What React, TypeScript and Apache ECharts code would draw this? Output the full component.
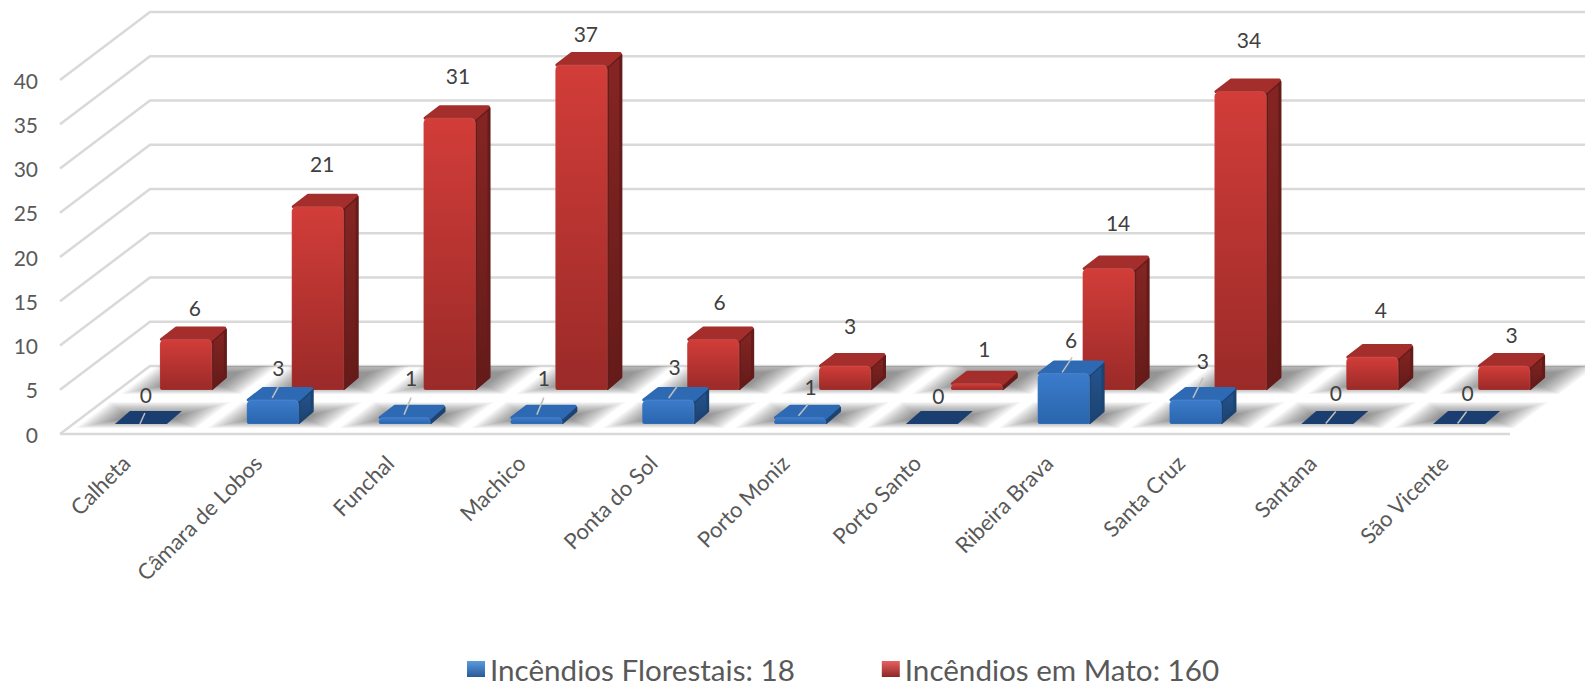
import React, { useEffect, useRef } from "react";
import * as echarts from "echarts";

const categories = ["Calheta", "Câmara de Lobos", "Funchal", "Machico", "Ponta do Sol", "Porto Moniz", "Porto Santo", "Ribeira Brava", "Santa Cruz", "Santana", "São Vicente"];
const florestais = [0, 3, 1, 1, 3, 1, 0, 6, 3, 0, 0];
const mato = [6, 21, 31, 37, 6, 3, 1, 14, 34, 4, 3];
const yTicks = [0, 5, 10, 15, 20, 25, 30, 35, 40];
const florestaisName = "Incêndios Florestais: 18";
const matoName = "Incêndios em Mato: 160";

// layout: label and leader offsets relative to each bar's top centre
const matoLabelOffset = [[1.5, -23], [-3, -34], [1, -34], [-3, -23], [-1, -29], [-2.5, -31], [0, -26], [2, -37], [1, -43], [1, -39], [0, -22]];
const florestaisLabelOffset = [[-2.5, -23.5], [-2, -23], [-1, -31], [0, -31], [-1, -24], [3, -22], [-1, -22], [0, -25], [0, -30], [1, -25], [1, -25]];
const leaderOffset = [[-3.5, -4.5, -8.5, 6.5], [-2, -4, -8, 7], [-1, -11, -8, 6], [0, -11, -7, 6], [1, -4, -7, 7], [1, -5, -9, 7], null, [1, -7, -9, 8], [0, -13, -10, 7], [1, -6, -9, 6], [0, -6, -9, 6]];

const FONT = "Lato";
const WALL_DX = 90, WALL_DY = 68;
const BAR_W = 52, BAR_DX = 15, BAR_DY = 13;
const TOP_INSET = 2.5;
const ROW_RED = { dx: 58, dy: 44 };
const ROW_BLUE = { dx: 13, dy: 10 };
const LINE = "#D9D9D9";

const vgrad = (a: string, b: string) => new echarts.graphic.LinearGradient(0, 0, 0, 1, [{ offset: 0, color: a }, { offset: 1, color: b }]);

const RED = { front: ["#D23D39", "#9A2A28"], side: ["#852523", "#641B19"], top: "#A32E2B", flat: "#B5322E" };
const BLUE = { front: ["#3C7CCB", "#2A65AE"], side: ["#25548F", "#1C4372"], top: "#2E6AB4", flat: "#1B3E70" };

function gridItem(params: any, api: any) {
  const v = api.value(1);
  const [, y] = api.coord([0, v]);
  const { x, width } = params.coordSys;
  const style = { stroke: LINE, lineWidth: 2.5, fill: "none" };
  const children: any[] = [{
    type: "polyline",
    shape: { points: [[x, y], [x + WALL_DX, y - WALL_DY], [x + width + WALL_DX, y - WALL_DY]] },
    style,
  }];
  if (v === 0) children.push({ type: "line", shape: { x1: x, y1: y, x2: x + width, y2: y }, style });
  return { type: "group", children };
}

function shadowItem(row: { dx: number; dy: number }, back: number, front: number) {
  return (_: any, api: any) => {
    const [cx, y0] = api.coord([api.value(0), 0]);
    const left = cx - BAR_W / 2 + 2;
    const children: any[] = [];
    const layers = 14;
    for (let k = 0; k < layers; k++) {
      const t = k / (layers - 1);
      const ex = 34 - 30 * t;
      const dBack = Math.min(WALL_DY, row.dy + back - 12 * t);
      const dFront = row.dy - front + 8 * t;
      const sk = WALL_DX / WALL_DY;
      const xl = left - ex, xr = left + BAR_W + ex;
      children.push({
        type: "polygon",
        silent: true,
        shape: {
          points: [
            [xl + dFront * sk, y0 - dFront],
            [xr + dFront * sk, y0 - dFront],
            [xr + dBack * sk, y0 - dBack],
            [xl + dBack * sk, y0 - dBack],
          ],
        },
        style: { fill: "rgba(0,0,0,0.034)" },
      });
    }
    return { type: "group", children };
  };
}

function barItem(row: { dx: number; dy: number }, pal: typeof RED, labels: number[][], leaders: any[] | null) {
  return (_: any, api: any) => {
    const i = api.value(0);
    const v = api.value(1);
    const [cx, y0] = api.coord([i, 0]);
    const [, yv] = api.coord([i, v]);
    const left = cx - BAR_W / 2 + 2 + row.dx;
    const right = left + BAR_W;
    const base = y0 - row.dy;
    const rawTop = base - (y0 - yv);
    const top = v > 0 ? rawTop + TOP_INSET : rawTop;
    const children: any[] = [];
    if (v > 0) {
      const m = 1.5;
      children.push({
        type: "polygon",
        shape: { points: [[right, top + m], [right + BAR_DX - m, top - BAR_DY + m * 2], [right + BAR_DX - m, base - BAR_DY], [right, base - m]] },
        style: { fill: vgrad(pal.side[0], pal.side[1]), stroke: pal.side[1], lineWidth: m * 2, lineJoin: "round" },
      });
      children.push({
        type: "polygon",
        shape: { points: [[left + m, top], [right, top], [right + BAR_DX - m * 1.5, top - BAR_DY + m], [left + BAR_DX + m, top - BAR_DY + m]] },
        style: { fill: pal.top, stroke: pal.top, lineWidth: m * 2, lineJoin: "round" },
      });
      children.push({
        type: "rect",
        shape: { x: left, y: top, width: BAR_W, height: base - top, r: [5, 5, 2, 2] },
        style: { fill: vgrad(pal.front[0], pal.front[1]), stroke: "rgba(255,255,255,0.1)", lineWidth: 1 },
      });
    } else {
      children.push({ type: "polygon", shape: { points: [[left, top], [right, top], [right + BAR_DX, top - BAR_DY], [left + BAR_DX, top - BAR_DY]] }, style: { fill: pal.flat } });
    }
    const tx = left + BAR_W / 2 + BAR_DX / 2;
    const ty = rawTop - BAR_DY / 2;
    const lead = leaders ? leaders[i] : null;
    if (lead) {
      children.push({
        type: "line",
        shape: { x1: tx + lead[0], y1: ty + lead[1], x2: tx + lead[2], y2: ty + lead[3] },
        style: { stroke: "#BFBFBF", lineWidth: 1.5 },
      });
    }
    children.push({
      type: "text",
      style: {
        text: String(v),
        x: tx + labels[i][0],
        y: ty + labels[i][1],
        align: "center",
        verticalAlign: "middle",
        fontSize: 21,
        fontFamily: FONT,
        fill: "#404040",
      },
    });
    return { type: "group", children };
  };
}

export default function App() {
  const ref = useRef<HTMLDivElement>(null);
  useEffect(() => {
    document.body.style.margin = "0";
    document.body.style.overflow = "hidden";
    const chart = echarts.init(ref.current!, undefined, { renderer: "svg" });
    const toData = (a: number[]) => a.map((v, i) => [i, v]);
    chart.setOption({
      animation: false,
      backgroundColor: "#fff",
      grid: { left: 60, right: 75, top: 80, bottom: 252, containLabel: false },
      xAxis: {
        type: "category",
        data: categories,
        axisLine: { show: false },
        axisTick: { show: false },
        axisLabel: { rotate: 45, interval: 0, margin: 25, fontSize: 22, fontFamily: FONT, color: "#595959" },
      },
      yAxis: {
        type: "value",
        min: 0,
        max: 40,
        interval: 5,
        splitLine: { show: false },
        axisLine: { show: false },
        axisTick: { show: false },
        axisLabel: { margin: 22, fontSize: 21, fontFamily: FONT, color: "#595959", padding: [5, 0, 0, 0] },
      },
      legend: {
        left: 467,
        top: 654,
        padding: 0,
        itemWidth: 18,
        itemHeight: 16,
        itemGap: 87,
        selectedMode: false,
        textStyle: { fontSize: 29.6, fontFamily: FONT, color: "#595959" },
        data: [
          { name: florestaisName, icon: "rect", itemStyle: { color: vgrad("#5B9BE0", "#2A5A96") } },
          { name: matoName, icon: "rect", itemStyle: { color: vgrad("#E86060", "#8C2725") } },
        ],
      },
      series: [
        { type: "custom", silent: true, renderItem: gridItem, data: yTicks.map((v) => [0, v]) },
        { type: "custom", silent: true, renderItem: shadowItem(ROW_RED, 30, 4), data: toData(mato) },
        { type: "custom", silent: true, renderItem: shadowItem(ROW_BLUE, 22, 4), data: toData(florestais) },
        { type: "custom", name: matoName, renderItem: barItem(ROW_RED, RED, matoLabelOffset, null), data: toData(mato), itemStyle: { color: "#C0392B" } },
        { type: "custom", name: florestaisName, renderItem: barItem(ROW_BLUE, BLUE, florestaisLabelOffset, leaderOffset), data: toData(florestais), itemStyle: { color: "#2E6AB4" } },
      ],
    });
    return () => chart.dispose();
  }, []);
  return <div ref={ref} style={{ position: "absolute", left: 0, top: 0, width: 1585, height: 686 }} />;
}
